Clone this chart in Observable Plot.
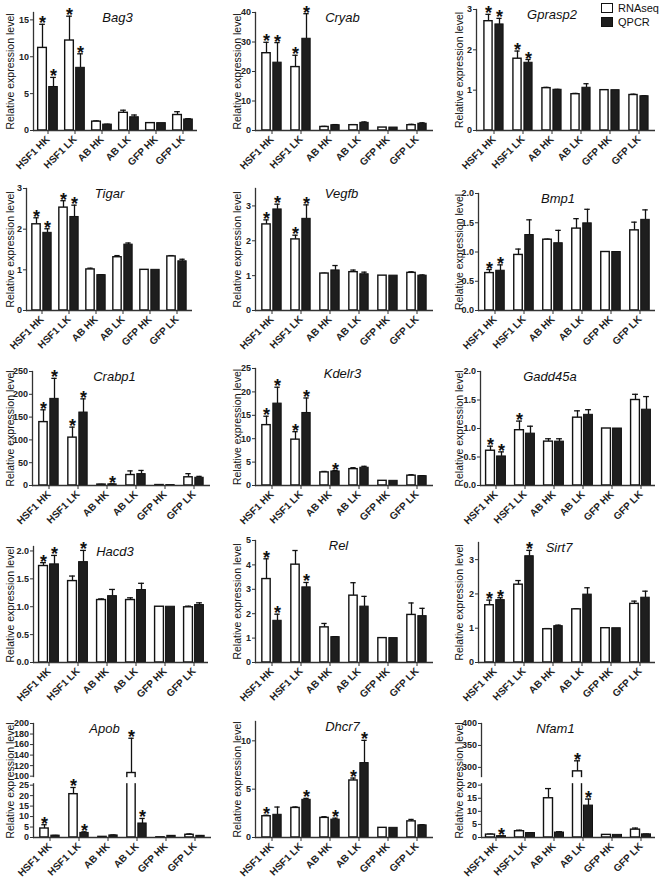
<!DOCTYPE html>
<html><head><meta charset="utf-8">
<script src="https://cdn.jsdelivr.net/npm/d3@7"></script>
<script src="https://cdn.jsdelivr.net/npm/@observablehq/plot@0.6"></script>
<style>
html,body{margin:0;padding:0;background:#fff;}
#root{position:relative;width:660px;height:880px;overflow:hidden;font-family:"Liberation Sans",Arial,sans-serif;}
.panel{position:absolute;}
#legend{position:absolute;left:601px;top:1px;font-size:11px;color:#111;}
#legend .row{display:flex;align-items:center;height:13px;margin-bottom:1px;}
#legend .sw{width:10px;height:8px;border:1.5px solid #111;margin-right:5px;box-sizing:content-box;}
</style></head><body>
<div id="root"></div>
<script>
const categories = ["HSF1 HK","HSF1 LK","AB HK","AB LK","GFP HK","GFP LK"];
const series = ["RNAseq","QPCR"];
const genes = ["Bag3","Cryab","Gprasp2","Tigar","Vegfb","Bmp1","Crabp1","Kdelr3","Gadd45a","Hacd3","Rel","Sirt7","Apob","Dhcr7","Nfam1"];

const rnaseqMean = [
  [11.2, 12.2, 1.2, 2.4, 1.0, 2.1],
  [26.2, 21.5, 1.2, 1.8, 1.0, 1.8],
  [2.71, 1.78, 1.05, 0.90, 1.0, 0.88],
  [2.12, 2.53, 1.01, 1.31, 1.0, 1.33],
  [2.47, 2.04, 1.06, 1.10, 1.0, 1.08],
  [0.64, 0.95, 1.21, 1.40, 1.0, 1.37],
  [139, 105, 2, 23, 1, 18],
  [12.9, 9.8, 2.8, 3.5, 1.0, 2.1],
  [0.61, 0.97, 0.77, 1.19, 1.0, 1.50],
  [1.73, 1.46, 1.12, 1.12, 1.0, 0.99],
  [3.42, 4.01, 1.44, 2.74, 1.0, 1.95],
  [1.67, 2.27, 0.97, 1.55, 1.0, 1.71],
  [4.3, 20.7, 0.3, 106, 0.1, 1.3],
  [2.2, 3.06, 2.03, 5.9, 1.0, 1.67],
  [1.1, 2.4, 15.0, 291, 1.0, 3.0]
];
const rnaseqErr = [
  [3.2, 3.3, 0.1, 0.35, 0, 0.45],
  [3.7, 4.0, 0.2, 0.2, 0, 0.3],
  [0.17, 0.19, 0.02, 0.02, 0, 0.02],
  [0.16, 0.17, 0.03, 0.04, 0, 0.02],
  [0.13, 0.12, 0.01, 0.06, 0, 0.03],
  [0.06, 0.10, 0.01, 0.17, 0, 0.14],
  [27, 23, 0.5, 9, 0, 8],
  [1.9, 1.7, 0.2, 0.3, 0, 0.2],
  [0.08, 0.16, 0.05, 0.12, 0, 0.10],
  [0.06, 0.09, 0.02, 0.04, 0, 0.02],
  [0.83, 0.58, 0.16, 0.53, 0, 0.49],
  [0.15, 0.12, 0.02, 0.02, 0, 0.08],
  [1.8, 3.2, 0.1, 66, 0, 0.4],
  [0.1, 0.1, 0.12, 0.25, 0, 0.2],
  [0.2, 0.4, 3.7, 24, 0, 0.6]
];
const qpcrMean = [
  [5.9, 8.5, 0.8, 1.8, 1.0, 1.5],
  [23.0, 31.1, 1.8, 2.6, 1.0, 2.3],
  [2.63, 1.68, 1.01, 1.06, 1.0, 0.85],
  [1.91, 2.30, 0.87, 1.62, 1.0, 1.21],
  [2.90, 2.63, 1.15, 1.04, 1.0, 1.00],
  [0.68, 1.29, 1.15, 1.49, 1.0, 1.55],
  [190, 160, 2.5, 25, 1, 17],
  [17.5, 15.5, 3.0, 3.8, 1.0, 2.0],
  [0.51, 0.91, 0.77, 1.24, 1.0, 1.33],
  [1.76, 1.80, 1.19, 1.30, 1.0, 1.03],
  [1.71, 3.08, 1.04, 2.29, 1.0, 1.90],
  [1.82, 3.10, 1.06, 1.98, 1.0, 1.89],
  [0.9, 2.2, 1.0, 6.7, 0.8, 0.8],
  [2.35, 3.9, 1.85, 7.7, 1.0, 1.26],
  [0.5, 1.7, 1.9, 12.2, 1.0, 1.2]
];
const qpcrErr = [
  [1.3, 1.9, 0.05, 0.3, 0, 0.1],
  [6.8, 8.5, 0.2, 0.3, 0, 0.3],
  [0.15, 0.08, 0.01, 0.1, 0, 0.01],
  [0.10, 0.29, 0.01, 0.04, 0, 0.05],
  [0.15, 0.40, 0.14, 0.06, 0, 0.02],
  [0.10, 0.26, 0.22, 0.24, 0, 0.17],
  [45, 30, 1, 8, 0, 3],
  [3.5, 3.2, 0.2, 0.3, 0, 0.1],
  [0.08, 0.13, 0.05, 0.09, 0, 0.23],
  [0.16, 0.21, 0.12, 0.12, 0, 0.04],
  [0.27, 0.20, 0.02, 0.42, 0, 0.32],
  [0.07, 0.17, 0.03, 0.20, 0, 0.19],
  [0.1, 0.5, 0.2, 2.4, 0.05, 0.1],
  [0.8, 0.15, 0.15, 2.35, 0, 0.06],
  [0.1, 0.1, 0.3, 2.5, 0, 0.1]
];
const rnaseqStar = [
  [1,1,0,0,0,0],[1,1,0,0,0,0],[1,1,0,0,0,0],
  [1,1,0,0,0,0],[1,1,0,0,0,0],[1,0,0,0,0,0],
  [1,1,0,0,0,0],[1,1,0,0,0,0],[1,1,0,0,0,0],
  [1,0,0,0,0,0],[1,0,0,0,0,0],[1,0,0,0,0,0],
  [1,1,0,1,0,0],[1,0,0,1,0,0],[0,0,0,1,0,0]
];
const qpcrStar = [
  [1,1,0,0,0,0],[1,1,0,0,0,0],[1,1,0,0,0,0],
  [1,1,0,0,0,0],[1,1,0,0,0,0],[1,0,0,0,0,0],
  [1,1,1,0,0,0],[1,1,1,0,0,0],[1,0,0,0,0,0],
  [1,1,0,0,0,0],[1,1,0,0,0,0],[1,1,0,0,0,0],
  [0,1,0,1,0,0],[0,1,1,1,0,0],[1,0,0,1,0,0]
];
const yMax = [16, 40, 3, 3, 3.5, 2, 250, 25, 2, 2.08, 5, 3.5, 200, 12, 400];
const yTicks = [
  [0,5,10,15],[0,10,20,30,40],[0,1,2,3],
  [0,1,2,3],[0,1,2,3],[0,0.5,1,1.5,2],
  [0,50,100,150,200,250],[0,5,10,15,20,25],[0,0.5,1,1.5,2],
  [0,0.5,1,1.5,2],[0,1,2,3,4,5],[0,1,2,3],
  [0,5,10,15,20,25,100,120,140,160,180,200],[0,5,10],[0,5,10,15,20,300,350,400]
];
const decimalGenes = ["Bmp1","Gadd45a","Hacd3"];
// broken axes: [top of lower segment, bottom of upper segment]
const brokenAxis = {Apob: [25, 100], Nfam1: [20, 280]};

// ---- layout (not data) ----
const W = 220, H = 176, MB = 46;
const rowTop = [0, 180, 355, 532, 707];
const marginTop = [12,12,9, 8,8,13, 16,13,16, 14,8,10, 16,14,16];
const marginLeft = [33,35,36, 26,35,38, 32,35,40, 33,35,38, 33,35,41];
const marginRight = [23,7,5, 28,7,5, 10,7,5, 12,7,5, 9,7,5];
const yLabelX = [10.5, 17, 19];
const titleDx = [2,-2,-14, 0,-3,-9, -7,-2,-18, -6,-6,-8, -18,-2,-13];
const BW = 9, GAP = 2, CAP = 6;
const FONT = "'Liberation Sans', Arial, sans-serif";

const root = document.getElementById("root");

genes.forEach((g, i) => {
  const col = i % 3, row = Math.floor(i / 3);
  const mL = marginLeft[i], mR = marginRight[i], mT = marginTop[i];
  const step = (W - mL - mR) / categories.length;
  const pad = (step - 2 * BW - GAP) / 2;
  const rna = categories.map((c, j) => ({cat: c, v: rnaseqMean[i][j], e: rnaseqErr[i][j], star: rnaseqStar[i][j]}));
  const qp = categories.map((c, j) => ({cat: c, v: qpcrMean[i][j], e: qpcrErr[i][j], star: qpcrStar[i][j]}));
  const insR = {insetLeft: pad, insetRight: step - pad - BW};
  const insQ = {insetLeft: pad + BW + GAP, insetRight: pad};
  const capR = {insetLeft: pad + (BW - CAP) / 2, insetRight: step - pad - BW + (BW - CAP) / 2};
  const capQ = {insetLeft: pad + BW + GAP + (BW - CAP) / 2, insetRight: pad + (BW - CAP) / 2};
  const dxR = pad + BW / 2 - step / 2, dxQ = step / 2 - pad - BW / 2;
  const brk = brokenAxis[g];
  let yScale;
  if (brk) {
    const b = H - MB, t = mT, span = b - t;
    yScale = {type: "linear", domain: [0, brk[0], brk[1], yMax[i]], range: [b, b - span * 0.459, b - span * 0.538, t], label: null};
  } else {
    yScale = {domain: [0, yMax[i]], label: null};
  }
  const fmt = decimalGenes.includes(g) ? d3.format(".1f") : d3.format("d");
  const errMarks = (data, dx, cap) => [
    Plot.ruleX(data.filter(d => d.e > 0), {x: "cat", y1: "v", y2: d => d.v + d.e, dx, stroke: "#111", strokeWidth: 1.3}),
    Plot.tickY(data.filter(d => d.e > 0), {x: "cat", y: d => d.v + d.e, ...cap, stroke: "#111", strokeWidth: 1.3})
  ];
  const marks = [
    ...errMarks(rna, dxR, capR),
    ...errMarks(qp, dxQ, capQ),
    Plot.barY(rna, {x: "cat", y: "v", fill: "white", stroke: "#111", strokeWidth: 1.4, ...insR}),
    Plot.barY(qp, {x: "cat", y: "v", fill: "#1e1e1e", stroke: "#111", strokeWidth: 1, ...insQ}),
    Plot.frame({anchor: "left", stroke: "#333", strokeWidth: 1.3})
  ];
  if (brk) {
    marks.push(Plot.rect([0], {y1: brk[0], y2: brk[1], fill: "white", insetLeft: -4, insetRight: -2, insetTop: 1.5, insetBottom: 1.5}));
  }
  marks.push(
    Plot.axisY({ticks: yTicks[i], tickFormat: fmt, tickSize: 3, tickPadding: 1.5, label: null, fontSize: 9, fontWeight: "bold", stroke: "#333", fill: "#222"}),
    Plot.axisX({tickRotate: -45, tickSize: 4, tickPadding: 3, label: null, fontSize: 10, fontWeight: "bold", stroke: "#333", fill: "#222"}),
    Plot.ruleY([0], {stroke: "#333", strokeWidth: 1.3}),
    Plot.text(rna.filter(d => d.star), {x: "cat", y: d => d.v + d.e, text: () => "*", dx: dxR, dy: 5, lineAnchor: "bottom", fontSize: 18, fontWeight: "bold", fill: "#111"}),
    Plot.text(qp.filter(d => d.star), {x: "cat", y: d => d.v + d.e, text: () => "*", dx: dxQ, dy: 5, lineAnchor: "bottom", fontSize: 18, fontWeight: "bold", fill: "#111"}),
    Plot.text([g], {frameAnchor: "top", dx: titleDx[i], dy: 5, lineAnchor: "middle", fontSize: 13, fontStyle: "italic", fontWeight: "normal", fill: "#111"}),
    Plot.text(["Relative expression level"], {frameAnchor: "left", dx: yLabelX[col] - mL, rotate: -90, textAnchor: "middle", fontSize: 10.5, fill: "#111"})
  );
  const chart = Plot.plot({
    width: W, height: H,
    marginLeft: mL, marginRight: mR, marginTop: mT, marginBottom: MB,
    style: {fontFamily: FONT, fontSize: "10px", color: "#222", background: "white", overflow: "visible"},
    x: {domain: categories, padding: 0, label: null},
    y: yScale,
    marks
  });
  const div = document.createElement("div");
  div.className = "panel";
  div.style.left = (col * W) + "px";
  div.style.top = rowTop[row] + "px";
  div.appendChild(chart);
  root.appendChild(div);
});

// legend
const legend = document.createElement("div");
legend.id = "legend";
series.forEach((s, k) => {
  const r = document.createElement("div");
  r.className = "row";
  const sw = document.createElement("span");
  sw.className = "sw";
  sw.style.background = k === 0 ? "white" : "#1e1e1e";
  const t = document.createElement("span");
  t.textContent = s;
  r.appendChild(sw); r.appendChild(t);
  legend.appendChild(r);
});
root.appendChild(legend);
</script>
</body></html>
